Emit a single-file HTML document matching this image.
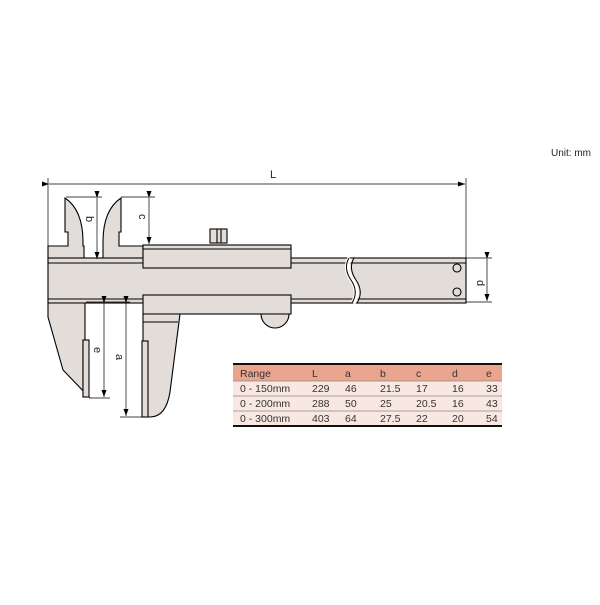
<!DOCTYPE html>
<html><head><style>
body{margin:0;background:#fff;width:600px;height:600px;overflow:hidden}
svg text{font-family:"Liberation Sans",sans-serif}
</style></head><body>
<svg width="600" height="600" viewBox="0 0 600 600" xmlns="http://www.w3.org/2000/svg">
<defs><marker id="ar" markerWidth="7" markerHeight="5" refX="7" refY="2.5" orient="auto" markerUnits="userSpaceOnUse"><path d="M0,0 L7,2.5 L0,5 Z" fill="#000"/></marker></defs>
<text x="551" y="156" font-size="10" fill="#222">Unit: mm</text>
<g stroke="#000" stroke-width="1.1" fill="#e3ddd9">
<!-- fixed head + left upper knife -->
<path d="M48,258 V246 H68 V232 H65 V198 Q83,210 83,242 V246 H84 V258 Z"/>
<!-- sliding upper jaw -->
<path d="M103,258 V242 Q103,210 121,198 V232 H119 V246 H143 V258 Z"/>
<!-- beam -->
<rect x="48" y="258" width="418" height="45"/>
<line x1="48" y1="263" x2="466" y2="263"/>
<line x1="48" y1="299" x2="466" y2="299"/>
<!-- fixed lower jaw -->
<path d="M48,303 V317 L63,370 L89,397 H83 V340 H85 V303 Z"/>
<rect x="83" y="340" width="6" height="57"/>
<!-- slider -->
<rect x="143" y="245" width="148" height="23"/>
<line x1="143" y1="249" x2="291" y2="249"/>
<rect x="143" y="295" width="148" height="19"/>
<!-- movable lower jaw -->
<path d="M143,314 H180 L170,392 Q166,417 150,417 H143 Z"/>
<line x1="143" y1="322" x2="178" y2="322"/>
<rect x="142" y="341" width="6" height="76"/>
<!-- roller -->
<path d="M261,314 A14,14 0 0 0 289,314 Z"/>
<!-- knob -->
<rect x="210" y="229" width="17" height="14"/>
<line x1="217" y1="229" x2="217" y2="243"/><line x1="221" y1="229" x2="221" y2="243"/>
<!-- holes -->
<circle cx="457" cy="268" r="4"/><circle cx="457" cy="292" r="4"/>
</g>
<!-- break -->
<path d="M350,258 Q344,268 352,280 Q360,292 353,303" stroke="#fff" stroke-width="5" fill="none"/>
<path d="M349,258 Q343,268 351,280 Q359,292 352,303 M354,258 Q348,268 356,280 Q364,292 357,303" stroke="#000" stroke-width="1" fill="none"/>
<!-- dims -->
<g stroke="#000" stroke-width="0.7" fill="none">
<line x1="48" y1="178" x2="48" y2="246"/><line x1="466" y1="178" x2="466" y2="258"/>
<line x1="49" y1="184" x2="465" y2="184" marker-start="url(#ar)" marker-end="url(#ar)"/>
<line x1="66" y1="197" x2="102" y2="197"/><line x1="97" y1="198" x2="97" y2="259" marker-start="url(#ar)" marker-end="url(#ar)"/>
<line x1="121" y1="197" x2="155" y2="197"/><line x1="149" y1="198" x2="149" y2="244" marker-start="url(#ar)" marker-end="url(#ar)"/>
<line x1="86" y1="302" x2="130" y2="302"/>
<line x1="104" y1="303" x2="104" y2="397" marker-start="url(#ar)" marker-end="url(#ar)"/>
<line x1="89" y1="398" x2="110" y2="398"/>
<line x1="126" y1="303" x2="126" y2="416" marker-start="url(#ar)" marker-end="url(#ar)"/>
<line x1="120" y1="417" x2="142" y2="417"/>
<line x1="466" y1="258" x2="492" y2="258"/><line x1="466" y1="302" x2="492" y2="302"/>
<line x1="487" y1="259" x2="487" y2="301" marker-start="url(#ar)" marker-end="url(#ar)"/>
</g>
<g font-size="11" fill="#222">
<text x="270" y="178">L</text>
<text transform="translate(86,216) rotate(90)">b</text>
<text transform="translate(139,214) rotate(90)">c</text>
<text transform="translate(94,347) rotate(90)">e</text>
<text transform="translate(116,354) rotate(90)">a</text>
<text transform="translate(477,280) rotate(90)">d</text>
</g>
<!-- table -->
<rect x="233" y="365" width="269" height="16" fill="#eba58f"/>
<rect x="233" y="381" width="269" height="45" fill="#f8e8e1"/>
<line x1="233" y1="364" x2="502" y2="364" stroke="#111" stroke-width="2"/>
<line x1="233" y1="381" x2="502" y2="381" stroke="#888" stroke-width="0.7"/>
<line x1="233" y1="396" x2="502" y2="396" stroke="#888" stroke-width="0.7"/>
<line x1="233" y1="411" x2="502" y2="411" stroke="#888" stroke-width="0.7"/>
<line x1="233" y1="426" x2="502" y2="426" stroke="#111" stroke-width="2"/>
<g font-size="10.5" fill="#333">
<text x="240" y="377">Range</text><text x="312" y="377">L</text><text x="345" y="377">a</text><text x="380" y="377">b</text><text x="416" y="377">c</text><text x="452" y="377">d</text><text x="486" y="377">e</text>
<text x="240" y="392">0 - 150mm</text><text x="312" y="392">229</text><text x="345" y="392">46</text><text x="380" y="392">21.5</text><text x="416" y="392">17</text><text x="452" y="392">16</text><text x="486" y="392">33</text>
<text x="240" y="407">0 - 200mm</text><text x="312" y="407">288</text><text x="345" y="407">50</text><text x="380" y="407">25</text><text x="416" y="407">20.5</text><text x="452" y="407">16</text><text x="486" y="407">43</text>
<text x="240" y="422">0 - 300mm</text><text x="312" y="422">403</text><text x="345" y="422">64</text><text x="380" y="422">27.5</text><text x="416" y="422">22</text><text x="452" y="422">20</text><text x="486" y="422">54</text>
</g>
</svg>
</body></html>
